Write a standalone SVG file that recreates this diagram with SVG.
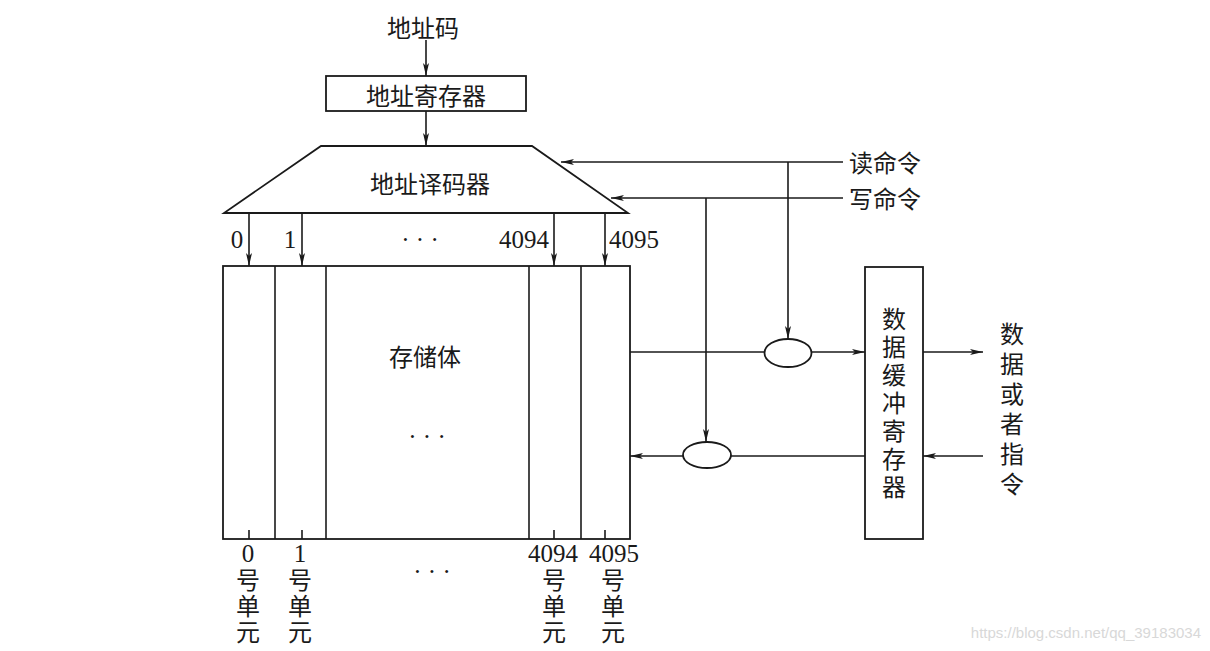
<svg xmlns="http://www.w3.org/2000/svg" width="1210" height="651" viewBox="0 0 1210 651">
<style>
.ln{stroke:#1a1a1a;stroke-width:1.6;fill:none}
.bx{stroke:#1a1a1a;stroke-width:1.8;fill:#fff}
.cj{font-family:"Noto Sans CJK SC","Noto Sans",sans-serif;font-size:24px;fill:#1a1a1a;dominant-baseline:central}
.vt{font-family:"Noto Sans CJK SC","Noto Sans",sans-serif;font-size:24px;fill:#1a1a1a;writing-mode:vertical-rl;text-orientation:upright}
.nm{font-family:"Liberation Serif",serif;font-size:25px;fill:#1a1a1a;dominant-baseline:central}
.wm{font-family:"Liberation Sans",sans-serif;font-size:15px;fill:#d8d8d8;dominant-baseline:central}
</style>
<defs>
<marker id="ar" viewBox="0 0 13 6" refX="13" refY="3" markerWidth="13" markerHeight="6" markerUnits="userSpaceOnUse" orient="auto">
<path d="M0,0 L13,3 L0,6 L3,3 z" fill="#1a1a1a"/>
</marker>
</defs>
<rect width="1210" height="651" fill="#fff"/>

<g id="connectors">
<line class="ln" x1="426" y1="40" x2="426" y2="76" marker-end="url(#ar)"/>
<line class="ln" x1="426" y1="111" x2="426" y2="146" marker-end="url(#ar)"/>
<line class="ln" x1="843" y1="162" x2="561" y2="162" marker-end="url(#ar)"/>
<line class="ln" x1="843" y1="198" x2="611" y2="198" marker-end="url(#ar)"/>
<line class="ln" x1="788" y1="162" x2="788" y2="339" marker-end="url(#ar)"/>
<line class="ln" x1="706" y1="198" x2="706" y2="442" marker-end="url(#ar)"/>
<line class="ln" x1="249" y1="213" x2="249" y2="266" marker-end="url(#ar)"/>
<line class="ln" x1="302" y1="213" x2="302" y2="266" marker-end="url(#ar)"/>
<line class="ln" x1="554" y1="213" x2="554" y2="266" marker-end="url(#ar)"/>
<line class="ln" x1="605" y1="213" x2="605" y2="266" marker-end="url(#ar)"/>
<line class="ln" x1="630" y1="352" x2="764" y2="352"/>
<line class="ln" x1="811" y1="352" x2="865" y2="352" marker-end="url(#ar)"/>
<line class="ln" x1="865" y1="456" x2="731" y2="456"/>
<line class="ln" x1="683" y1="456" x2="630" y2="456" marker-end="url(#ar)"/>
<line class="ln" x1="923" y1="352" x2="983" y2="352" marker-end="url(#ar)"/>
<line class="ln" x1="983" y1="456" x2="923" y2="456" marker-end="url(#ar)"/>
</g>

<g id="addr-code">
<text class="cj" x="423" y="26" text-anchor="middle">地址码</text>
</g>

<g id="addr-register">
<rect class="bx" x="326" y="76" width="200" height="35"/>
<text class="cj" x="426" y="94" text-anchor="middle">地址寄存器</text>
</g>

<g id="addr-decoder">
<polygon class="bx" points="321,146 532,146 628,213 224,213"/>
<text class="cj" x="430" y="182" text-anchor="middle">地址译码器</text>
<text class="nm" x="237" y="239" text-anchor="middle">0</text>
<text class="nm" x="290" y="239" text-anchor="middle">1</text>
<text class="nm" x="420" y="239" text-anchor="middle">· · ·</text>
<text class="nm" x="549" y="239" text-anchor="end">4094</text>
<text class="nm" x="609" y="239" text-anchor="start">4095</text>
</g>

<g id="read-cmd">
<text class="cj" x="849" y="161">读命令</text>
</g>
<g id="write-cmd">
<text class="cj" x="849" y="197">写命令</text>
</g>

<g id="memory">
<rect class="bx" x="223" y="266" width="407" height="273"/>
<line class="ln" x1="275" y1="266" x2="275" y2="539"/>
<line class="ln" x1="326" y1="266" x2="326" y2="539"/>
<line class="ln" x1="529" y1="266" x2="529" y2="539"/>
<line class="ln" x1="581" y1="266" x2="581" y2="539"/>
<line class="ln" x1="249" y1="530" x2="249" y2="539"/>
<line class="ln" x1="302" y1="530" x2="302" y2="539"/>
<line class="ln" x1="554" y1="530" x2="554" y2="539"/>
<line class="ln" x1="605" y1="530" x2="605" y2="539"/>
<text class="cj" x="425" y="355" text-anchor="middle">存储体</text>
<text class="nm" x="427" y="436" text-anchor="middle">· · ·</text>
</g>

<g id="unit-labels">
<text class="nm" x="248" y="553" text-anchor="middle">0</text>
<text class="vt" x="248" y="568" letter-spacing="2">号单元</text>
<text class="nm" x="300" y="553" text-anchor="middle">1</text>
<text class="vt" x="300" y="568" letter-spacing="2">号单元</text>
<text class="nm" x="432" y="571" text-anchor="middle">· · ·</text>
<text class="nm" x="553" y="553" text-anchor="middle">4094</text>
<text class="vt" x="554" y="568" letter-spacing="2">号单元</text>
<text class="nm" x="614" y="553" text-anchor="middle">4095</text>
<text class="vt" x="613" y="568" letter-spacing="2">号单元</text>
</g>

<g id="read-gate">
<ellipse class="bx" cx="788" cy="353" rx="23.5" ry="14"/>
</g>
<g id="write-gate">
<ellipse class="bx" cx="707" cy="455" rx="24" ry="13"/>
</g>

<g id="data-buffer">
<rect class="bx" x="865" y="267" width="58" height="272"/>
<text class="vt" x="894" y="307" letter-spacing="4">数据缓冲寄存器</text>
</g>

<g id="data-io">
<text class="vt" x="1012" y="322" letter-spacing="6">数据或者指令</text>
</g>

<g id="watermark">
<text class="wm" x="1201" y="632" text-anchor="end">https://blog.csdn.net/qq_39183034</text>
</g>
</svg>
